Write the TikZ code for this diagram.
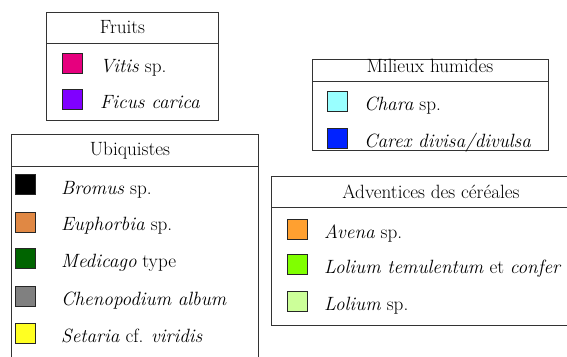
\documentclass[tikz,border=0pt]{standalone}
\usetikzlibrary{positioning}
\usepackage{xcolor}
\definecolor{vitis}{HTML}{E6007E}
\definecolor{ficus}{HTML}{8000FF}
\definecolor{chara}{HTML}{99FFFF}
\definecolor{carex}{HTML}{0022FF}
\definecolor{bromus}{HTML}{000000}
\definecolor{euphorbia}{HTML}{E08844}
\definecolor{medicago}{HTML}{006400}
\definecolor{chenopod}{HTML}{808080}
\definecolor{setaria}{HTML}{FFFF22}
\definecolor{avena}{HTML}{FFA030}
\definecolor{loltem}{HTML}{80FF00}
\definecolor{lolsp}{HTML}{CCFF99}
\definecolor{frame}{HTML}{333333}

\begin{document}
\begin{tikzpicture}[x=1pt, y=-1pt,
  every node/.style={font=\fontsize{19.2}{22}\selectfont},
  legendbox/.style={draw=frame, line width=0.8pt},
  swatch/.style={draw=black!85, line width=0.8pt, minimum size=19.5pt, inner sep=0pt, anchor=north west},
  taxon/.style={anchor=base west, inner sep=0pt},
  heading/.style={anchor=base, inner sep=0pt}
]
  \clip (0,0) rectangle (567,356);

  % Fruits
  \draw[legendbox] (46,12) rectangle (218,120);
  \draw[legendbox] (46,43) -- (218,43);
  \node[heading] (hfruits) at (122.5,33) {Fruits};
  \node[swatch, fill=vitis] (s-vitis) at (62,53) {};
  \node[taxon] (t-vitis) at (100,72) {\textit{Vitis} sp.};
  \node[swatch, fill=ficus] (s-ficus) at (62,89) {};
  \node[taxon] (t-ficus) at (100,108) {\textit{Ficus carica}};

  % Milieux humides
  \draw[legendbox] (312,59) rectangle (548,150);
  \draw[legendbox] (312,81) -- (548,81);
  \node[heading] (hhum) at (430,72) {Milieux humides};
  \node[swatch, fill=chara] (s-chara) at (327,91) {};
  \node[taxon] (t-chara) at (364,110) {\textit{Chara} sp.};
  \node[swatch, fill=carex] (s-carex) at (327,128) {};
  \node[taxon] (t-carex) at (364,147) {\textit{Carex divisa/divulsa}};

  % Ubiquistes (runs off the bottom)
  \draw[legendbox] (11,134) rectangle (258,380);
  \draw[legendbox] (11,166) -- (258,166);
  \node[heading] (hubiq) at (130,155) {Ubiquistes};
  \node[swatch, fill=bromus] (s-bromus) at (15,174) {};
  \node[taxon] (t-bromus) at (61,194) {\textit{Bromus} sp.};
  \node[swatch, fill=euphorbia] (s-euph) at (15,212) {};
  \node[taxon] (t-euph) at (61,230) {\textit{Euphorbia} sp.};
  \node[swatch, fill=medicago] (s-medic) at (15,248) {};
  \node[taxon] (t-medic) at (61,267) {\textit{Medicago} type};
  \node[swatch, fill=chenopod] (s-cheno) at (15,286) {};
  \node[taxon] (t-cheno) at (61,305) {\textit{Chenopodium album}};
  \node[swatch, fill=setaria] (s-setar) at (15,323) {};
  \node[taxon] (t-setar) at (61,342) {\textit{Setaria} cf. \textit{viridis}};

  % Adventices des cereales (runs off the right)
  \draw[legendbox] (271,176) rectangle (580,325);
  \draw[legendbox] (271,207) -- (580,207);
  \node[heading] (hadv) at (431,198) {Adventices des céréales};
  \node[swatch, fill=avena] (s-avena) at (287,219) {};
  \node[taxon] (t-avena) at (324,238) {\textit{Avena} sp.};
  \node[swatch, fill=loltem] (s-loltem) at (287,254) {};
  \node[taxon] (t-loltem) at (324,273) {\textit{Lolium temulentum} et \textit{confer}};
  \node[swatch, fill=lolsp] (s-lolsp) at (287,291) {};
  \node[taxon] (t-lolsp) at (324,310) {\textit{Lolium} sp.};
\end{tikzpicture}
\end{document}
